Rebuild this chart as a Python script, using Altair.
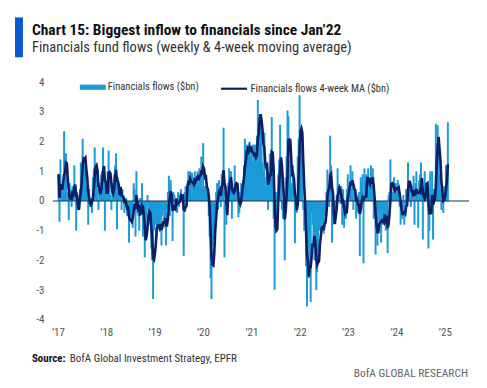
import altair as alt
import pandas as pd

# ---- weekly financials fund flows ($bn) ----
flows_2017 = [0.9, -0.7, 1.4, 0.5, 0.3, 0.4, 2.35, 0.8, 1.6, 0.3,
              0.2, -0.65, 0.6, 0.4, -0.2, 0.5, 0.3, 1.2, 0.2, -1.0,
              0.3, -0.3, -0.2, 0.4, 1.3, 0.9, 2.1, 1.4, 1.2, 1.1,
              0.5, 0.3, -0.8, 0.4, -0.2, 0.1, -0.4, 0.8, 1.1, 1.8,
              0.9, 1.0, 0.4, -0.3, 0.6, 0.2, 0.9, 1.0, 1.8, 1.0,
              -1.0, 0.7]
flows_2018 = [0.4, 1.0, 1.7, 0.8, 0.2, -0.3, 0.6, 0.5, 0.9, 1.2,
              1.6, -0.95, 0.8, 0.6, 0.3, 0.2, -0.3, 0.4, 0.2, -0.4,
              -0.2, 0.1, -0.5, -0.3, -1.4, -0.3, -0.6, -0.5, -0.9, 0.6,
              0.4, -1.2, 1.0, -0.4, -0.5, -1.0, 0.1, -0.3, 0.6, -1.2,
              -0.9, -1.9, -1.3, -0.6, 0.2, -0.3, -0.7, -0.8, -1.6, -2.0,
              -3.3, -1.0]
flows_2019 = [-0.8, -0.6, -1.2, -0.7, -0.9, -0.9, -0.6, -1.5, -0.5, -0.3,
              -0.6, -0.9, -1.5, -0.3, 0.3, 0.85, -0.5, 0.7, -0.2, -1.35,
              0.3, 0.2, -0.3, 0.1, -0.4, 0.3, -0.2, 0.2, 0.4, 0.1,
              0.2, -1.85, 0.3, 0.5, 0.4, 0.6, 1.0, 0.4, 1.0, 0.2,
              0.95, 0.3, 0.8, 1.0, 0.6, 0.7, 1.0, 0.5, 1.1, 0.8,
              1.5, 0.4]
flows_2020 = [1.95, 0.5, 0.3, 0.5, 0.6, 0.2, -0.5, -1.2, -2.6, -3.3,
              -1.5, -1.3, -0.9, -0.4, 0.3, 0.6, -0.3, 0.7, 0.5, -0.2,
              0.9, 1.0, 2.47, -1.9, 0.3, -0.8, 0.5, 0.6, 1.1, 0.5,
              1.0, -0.6, 0.4, 0.3, 1.2, 0.3, 0.6, 0.2, -0.55, -0.4,
              0.3, 0.6, 0.5, 0.7, 1.2, 2.1, 1.4, 1.9, 1.6, 1.8,
              2.0, 1.5]
flows_2021 = [1.8, 1.3, 1.9, 1.2, 1.9, 0.9, 2.2, 3.4, 2.6, 2.9,
              2.8, 2.6, 1.3, 1.0, 2.3, 0.5, 0.8, 1.2, -0.3, 1.0,
              1.6, 1.2, 2.83, 0.9, -0.6, -2.99, -0.7, 0.3, -0.4, 0.9,
              1.4, 2.57, 1.0, -0.3, -0.6, 0.4, -2.0, 0.8, 1.5, 3.05,
              2.85, 0.9, 1.4, 0.6, 0.4, 1.2, 0.8, -1.42, -0.2, -0.4,
              1.5, 2.1]
flows_2022 = [3.56, 2.2, 1.9, 1.5, -0.3, -1.0, -0.5, -2.2, -3.55, -1.8,
              -2.6, -1.1, -3.4, -0.4, -0.8, -1.5, -2.0, -1.2, -3.0, -2.4,
              -1.7, -1.0, -0.7, -1.3, -0.6, -0.9, -1.1, -0.5, -0.4, 0.3,
              1.05, 0.5, -0.2, 2.2, 1.2, -1.4, -0.8, -0.6, -0.3, -0.4,
              0.2, 1.1, 0.2, 0.3, -0.1, 0.5, -0.8, 0.4, -0.9, -0.4,
              -0.6, 0.4]
flows_2023 = [0.9, 0.3, 0.2, 1.2, 0.4, 1.0, -0.3, 0.5, 0.3, -0.6,
              0.2, -0.4, 0.3, -1.85, 0.8, 0.6, 0.9, -2.1, 1.1, 0.7,
              0.9, 0.4, 1.1, 0.2, 0.6, 1.2, 0.3, 1.1, -0.6, -0.4,
              -1.8, -0.5, -1.5, -0.4, -0.7, -0.3, -1.4, -0.2, -0.8, -0.5,
              -0.3, -1.0, -0.6, -1.75, 0.2, 0.3, 1.4, 0.4, 0.3, 0.2,
              0.8, 0.1]
flows_2024 = [0.6, 0.2, 0.7, 0.3, -0.2, -0.8, -0.3, -0.6, 0.2, -0.8,
              -0.5, 0.4, 0.3, 1.3, 0.6, 0.4, -0.2, 0.5, 0.3, 0.85,
              -0.8, 0.6, 1.0, 0.4, -0.9, 0.7, 0.9, 1.3, 0.2, -1.3,
              0.4, 1.0, 0.6, 0.3, 0.5, -1.6, -1.0, 1.0, -0.2, 1.0,
              -1.3, 0.4, 0.2, 2.6, 1.9, 2.55, 1.6, 0.9, 0.4, -0.3,
              0.3, -0.4]
flows_2025 = [0.5, 0.3, 1.2, 0.8, 2.65]

first_week = "2017-01-06"
year_ticks = list(range(2017, 2026))
y_ticks = list(range(-4, 5))

BAR_LABEL = "Financials flows ($bn)"
MA_LABEL = "Financials flows 4-week MA ($bn)"
TITLE = "Chart 15: Biggest inflow to financials since Jan\u201922"
SUBTITLE = "Financials fund flows (weekly & 4-week moving average)"
SOURCE_BOLD = "Source:"
SOURCE_REST = "BofA Global Investment Strategy, EPFR"
BRAND = "BofA GLOBAL RESEARCH"

BAR_COLOR = "#1b9bd8"
MA_COLOR = "#0c1f66"
ZERO_COLOR = "#1f3550"
ACCENT = "#0a58cf"
FONT = "Liberation Sans Narrow, Roboto Condensed, Open Sans, sans-serif"

flows = (flows_2017 + flows_2018 + flows_2019 + flows_2020 + flows_2021
         + flows_2022 + flows_2023 + flows_2024 + flows_2025)
df = pd.DataFrame({
    "date": pd.date_range(first_week, periods=len(flows), freq="7D"),
    "flow": flows,
    "bar_series": BAR_LABEL,
    "ma_series": MA_LABEL,
})

x_scale = alt.Scale(domain=[alt.DateTime(year=2017, month=1, date=1),
                            alt.DateTime(year=2025, month=5, date=26)])
y_scale = alt.Scale(domain=[-4, 4], nice=False)

x_axis = alt.Axis(values=[alt.DateTime(year=y, month=1, date=1) for y in year_ticks],
                  labelExpr="\"\u2019\" + timeFormat(datum.value, '%y')",
                  title=None, domain=False, ticks=False, grid=False,
                  labelPadding=7, labelFontSize=11, labelColor="#555", labelFont=FONT)
y_axis = alt.Axis(values=y_ticks, labelExpr="'' + datum.value",
                  title=None, domain=False, ticks=False, grid=False, labelOverlap=False,
                  labelPadding=9, labelFontSize=11, labelColor="#555", labelFont=FONT)

X = alt.X("date:T", scale=x_scale, axis=x_axis)

bars = alt.Chart(df).mark_bar(size=2.0).encode(
    x=X,
    y=alt.Y("flow:Q", scale=y_scale, axis=y_axis),
    color=alt.Color("bar_series:N",
                    scale=alt.Scale(domain=[BAR_LABEL], range=[BAR_COLOR]),
                    legend=alt.Legend(title=None, orient="none", legendX=27, legendY=-8,
                                      symbolType="M-1,-0.2H1V0.2H-1Z", symbolSize=676,
                                      symbolStrokeWidth=0, labelOffset=2,
                                      labelFont=FONT, labelFontSize=10.5, labelColor="#333")),
)

zero = alt.Chart(pd.DataFrame({"v": [0]})).mark_rule(color=ZERO_COLOR, strokeWidth=1.2).encode(
    y=alt.Y("v:Q", scale=y_scale, axis=y_axis)
)

ma = alt.Chart(df).transform_window(
    ma="mean(flow)", frame=[-3, 0], sort=[alt.SortField("date")]
).mark_line(strokeWidth=2.6).encode(
    x=X,
    y=alt.Y("ma:Q", scale=y_scale, axis=y_axis),
    stroke=alt.Stroke("ma_series:N",
                      scale=alt.Scale(domain=[MA_LABEL], range=[MA_COLOR]),
                      legend=alt.Legend(title=None, orient="none", legendX=167, legendY=-8,
                                        symbolType="stroke", symbolSize=676,
                                        symbolStrokeWidth=2.2, labelOffset=2,
                                        labelFont=FONT, labelFontSize=10.5, labelColor="#333")),
)

one = pd.DataFrame({"k": [0]})
accent = alt.Chart(one).mark_rect(color=ACCENT).encode(
    x=alt.value(-38), x2=alt.value(-30), y=alt.value(-65), y2=alt.value(-25)
)
title = alt.Chart(one).mark_text(text=TITLE, font=FONT, fontSize=15.5, fontWeight="bold",
                                 align="left", baseline="alphabetic", color="#111").encode(
    x=alt.value(-21), y=alt.value(-47))
subtitle = alt.Chart(one).mark_text(text=SUBTITLE, font=FONT, fontSize=14.5,
                                    align="left", baseline="alphabetic", color="#333").encode(
    x=alt.value(-21), y=alt.value(-30))
src_b = alt.Chart(one).mark_text(text=SOURCE_BOLD, font=FONT, fontSize=11, fontWeight="bold",
                                 align="left", baseline="alphabetic", color="#111").encode(
    x=alt.value(-21), y=alt.value(280))
src_r = alt.Chart(one).mark_text(text=SOURCE_REST, font=FONT, fontSize=11,
                                 align="left", baseline="alphabetic", color="#333").encode(
    x=alt.value(17), y=alt.value(280))
brand = alt.Chart(one).mark_text(text=BRAND, font=FONT, fontSize=11.5,
                                 align="right", baseline="alphabetic", color="#666").encode(
    x=alt.value(416), y=alt.value(295))

chart = alt.layer(bars, zero, ma, accent, title, subtitle, src_b, src_r, brand).resolve_scale(
    color="independent", stroke="independent"
).properties(
    width=417, height=238,
    autosize=alt.AutoSizeParams(type="none"),
    padding={"left": 45, "top": 74, "right": 10, "bottom": 60},
).configure_view(strokeWidth=0)

chart.save("out.html", embed_options={"renderer": "svg", "actions": False})
